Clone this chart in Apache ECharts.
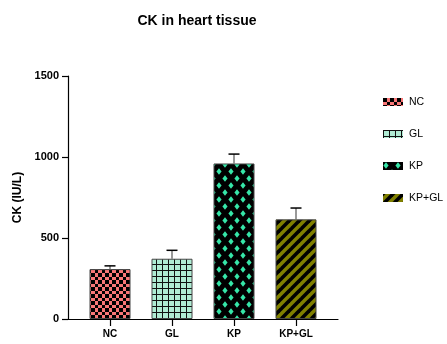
<!DOCTYPE html>
<html>
<head>
<meta charset="utf-8">
<script src="https://cdn.jsdelivr.net/npm/echarts@6/dist/echarts.min.js"></script>
<style>html,body{margin:0;padding:0;background:#fff}#c{width:447px;height:344px}</style>
</head>
<body>
<div id="c"></div>
<script>
const categories = ['NC', 'GL', 'KP', 'KP+GL'];
const means = [308, 372, 960, 615];
const errors = [20, 52, 58, 70];
const yMin = 0, yMax = 1500, yInterval = 500;
const titleText = 'CK in heart tissue';
const yName = 'CK (IU/L)';

const FONT = 'Arial, "Liberation Sans", sans-serif';

function tile(w, h, draw) {
  const c = document.createElement('canvas');
  c.width = w; c.height = h;
  draw(c.getContext('2d'));
  return { image: c, repeat: 'repeat' };
}
const patterns = [
  tile(7, 7, g => { g.fillStyle = '#F87676'; g.fillRect(0,0,7,7); g.fillStyle = '#000'; g.fillRect(0,0,4,4); g.fillRect(4,4,3,3); }),
  tile(6, 6, g => { g.fillStyle = '#B0ECD4'; g.fillRect(0,0,6,6); g.fillStyle = '#111'; g.fillRect(0,0,1,6); g.fillRect(0,0,6,1); }),
  tile(12, 14, g => {
    g.fillStyle = '#000'; g.fillRect(0,0,12,14); g.fillStyle = '#36E6A8';
    const d = (x, y) => { g.beginPath(); g.moveTo(x, y-3.2); g.lineTo(x+2.6, y); g.lineTo(x, y+3.2); g.lineTo(x-2.6, y); g.closePath(); g.fill(); };
    d(3, 3.5); d(9, 10.5); d(-3, 10.5); d(15, 3.5); d(3, 17.5); d(9, -3.5);
  }),
  tile(10, 10, g => {
    g.fillStyle = '#808000'; g.fillRect(0,0,10,10); g.strokeStyle = '#000'; g.lineWidth = 3.6;
    [[-1,11,11,-1],[-6,6,6,-6],[4,16,16,4]].forEach(l => { g.beginPath(); g.moveTo(l[0],l[1]); g.lineTo(l[2],l[3]); g.stroke(); });
  })
];

const barSeries = categories.map((name, i) => ({
  name: name,
  type: 'bar',
  xAxisIndex: 1,
  yAxisIndex: 1,
  barWidth: 41,
  barGap: '-100%',
  itemStyle: { color: patterns[i], borderColor: '#444', borderWidth: 1 },
  data: categories.map((_, j) => (j === i ? means[i] : '-'))
}));

const errSeries = {
  type: 'custom',
  xAxisIndex: 1,
  yAxisIndex: 1,
  z: 5,
  data: categories.map((_, i) => [i, means[i], errors[i]]),
  renderItem: function (params, api) {
    const i = api.value(0), m = api.value(1), e = api.value(2);
    const base = api.coord([i, m]);
    const top = api.coord([i, m + e]);
    return {
      type: 'group',
      children: [
        { type: 'line', shape: { x1: base[0], y1: base[1], x2: top[0], y2: top[1] }, style: { stroke: '#555', lineWidth: 1.2 } },
        { type: 'line', shape: { x1: top[0] - 5.5, y1: top[1], x2: top[0] + 5.5, y2: top[1] }, style: { stroke: '#000', lineWidth: 1.5 } }
      ]
    };
  }
};

const chart = echarts.init(document.getElementById('c'), null, { renderer: 'canvas' });
chart.setOption({
  animation: false,
  textStyle: { fontFamily: FONT },
  title: {
    text: titleText,
    left: 197,
    textAlign: 'center',
    top: 14,
    padding: 0,
    textStyle: { fontSize: 14, fontWeight: 'bold', color: '#000', fontFamily: FONT }
  },
  legend: {
    orient: 'vertical',
    left: 378,
    top: 91,
    itemWidth: 20,
    itemHeight: 8,
    itemGap: 20,
    icon: 'rect',
    data: categories,
    itemStyle: { borderWidth: 0 },
    textStyle: { fontSize: 10.5, color: '#000', fontFamily: FONT, lineHeight: 12, padding: [0, 0, 0, 1] }
  },
  grid: [
    { left: 68, right: 109, top: 76, bottom: 25 },
    { left: 79, right: 120, top: 76, bottom: 25 }
  ],
  xAxis: [
    { type: 'value', gridIndex: 0, min: 0, max: 1, axisLine: { show: true, lineStyle: { color: '#000', width: 1.2 } }, axisTick: { show: false }, axisLabel: { show: false }, splitLine: { show: false } },
    { type: 'category', gridIndex: 1, data: categories,
      axisLine: { show: false },
      axisTick: { show: true, alignWithLabel: true, length: 7, lineStyle: { color: '#000', width: 1.2 } },
      axisLabel: { color: '#000', fontSize: 10, fontWeight: 'bold', margin: 10, fontFamily: FONT }
    }
  ],
  yAxis: [
    { type: 'value', gridIndex: 0, min: yMin, max: yMax, interval: yInterval,
      name: yName, nameLocation: 'middle', nameGap: 37, nameRotate: 90,
      nameTextStyle: { fontSize: 12, fontWeight: 'bold', color: '#000', fontFamily: FONT },
      axisLine: { show: true, lineStyle: { color: '#000', width: 1.2 } },
      axisTick: { show: true, length: 6, lineStyle: { color: '#000', width: 1.2 } },
      axisLabel: { color: '#000', fontSize: 11, fontWeight: 'bold', margin: 9, fontFamily: FONT, formatter: v => String(v) },
      splitLine: { show: false }
    },
    { type: 'value', gridIndex: 1, min: yMin, max: yMax, interval: yInterval, show: false, splitLine: { show: false } }
  ],
  series: barSeries.concat([errSeries])
});
</script>
</body>
</html>
